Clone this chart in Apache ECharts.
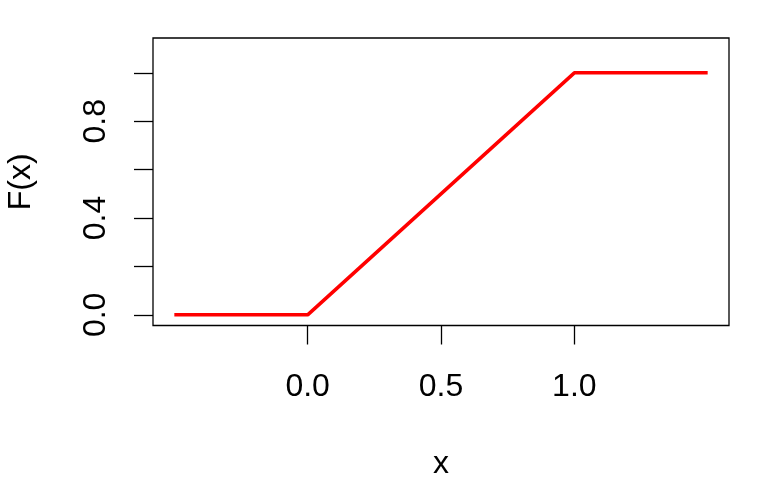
<!DOCTYPE html>
<html>
<head>
<meta charset="utf-8">
<script src="https://cdn.jsdelivr.net/npm/echarts@6/dist/echarts.min.js"></script>
<style>html,body{margin:0;padding:0;background:#fff}#c{width:768px;height:480px}</style>
</head>
<body>
<div id="c"></div>
<script>
// Data: uniform CDF F(x)
var xValues = [-0.5, 0, 0.5, 1, 1.5];
var yValues = [0, 0, 0.5, 1, 1];
var xTicks = [0, 0.5, 1];
var yTicks = [0, 0.2, 0.4, 0.6, 0.8, 1];
var yTickLabels = [0, 0.4, 0.8];

var FONT = '"Liberation Sans", Arial, Helvetica, sans-serif';
var chart = echarts.init(document.getElementById('c'), null, {renderer: 'canvas'});
chart.setOption({
  animation: false,
  backgroundColor: '#fff',
  grid: {left: 153, top: 38, right: 39, bottom: 154.5, show: true, borderColor: '#000', borderWidth: 1.3,
    backgroundColor: 'transparent', containLabel: false, outerBoundsMode: 'none'},
  xAxis: {
    type: 'value', min: -0.58, max: 1.58,
    name: 'x', nameLocation: 'middle', nameGap: 123,
    nameTextStyle: {fontSize: 32, color: '#000', fontFamily: FONT},
    axisLine: {show: false, onZero: false},
    splitLine: {show: false},
    axisTick: {show: true, inside: false, length: 19, customValues: xTicks, lineStyle: {color: '#000', width: 1.3}},
    axisLabel: {show: true, customValues: xTicks, margin: 46, fontSize: 32, color: '#000', fontFamily: FONT,
      formatter: function (v) { return v.toFixed(1); }}
  },
  yAxis: {
    type: 'value', min: -0.044, max: 1.144,
    name: 'F(x)', nameLocation: 'middle', nameGap: 116, nameRotate: 90,
    nameTextStyle: {fontSize: 32, color: '#000', fontFamily: FONT},
    axisLine: {show: false, onZero: false},
    splitLine: {show: false},
    axisTick: {show: true, inside: false, length: 19, customValues: yTicks, lineStyle: {color: '#000', width: 1.3}},
    axisLabel: {show: true, customValues: yTickLabels, rotate: 90, margin: 41, fontSize: 32, color: '#000', fontFamily: FONT,
      formatter: function (v) { return v.toFixed(1); }}
  },
  series: [{
    type: 'line',
    data: xValues.map(function (x, i) { return [x, yValues[i]]; }),
    showSymbol: false,
    lineStyle: {color: '#ff0000', width: 3.5},
    z: 5
  }]
});
</script>
</body>
</html>
